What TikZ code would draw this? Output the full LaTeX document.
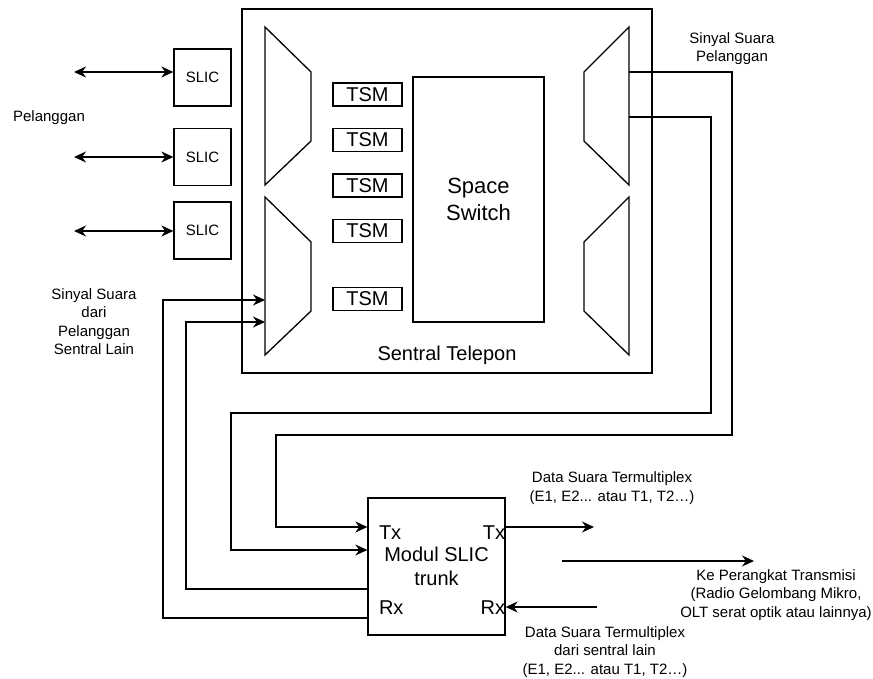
\documentclass[tikz,border=0pt]{standalone}
\usepackage{fontspec}
\setmainfont{Liberation Sans}
\usetikzlibrary{arrows.meta,positioning}

\begin{document}
\begin{tikzpicture}[
  x=1pt, y=-1pt,
  line width=1.3pt,
  txt/.style={font=\fontsize{15}{18.5}\selectfont, align=center},
  big/.style={font=\fontsize{20}{24}\selectfont, align=center},
  slic/.style={draw, minimum width=57pt, minimum height=57pt, inner sep=0pt,
               font=\fontsize{15}{18}\selectfont},
  tsm/.style={draw, minimum width=69pt, minimum height=23pt, inner sep=0pt,
              font=\fontsize{20}{24}\selectfont},
  arr/.style={-{Stealth[length=12pt,width=11pt]}},
  arrs/.style={{Stealth[length=12pt,width=11pt]}-{Stealth[length=12pt,width=11pt]}}
]
\useasboundingbox (0,0) rectangle (873,679);

% sentral telepon
\node[draw, minimum width=410pt, minimum height=364pt] (st) at (447,191) {};
\node[big] (stl) at (447,355) {Sentral Telepon};

\foreach \i/\y in {1/94.5,2/140,3/185.5,4/231,5/299}
  \node[tsm] (tsm\i) at (367.5,\y) {TSM};

\node[draw, minimum width=131pt, minimum height=245pt, align=center,
      font=\fontsize{22}{27}\selectfont] (ss) at (478.5,199.5) {Space\\Switch};

% mux / demux
\foreach \dy in {0,170} {
  \draw (265,27+\dy) -- (311,72+\dy) -- (311,141+\dy) -- (265,185+\dy) -- cycle;
  \draw (629,27+\dy) -- (584,72+\dy) -- (584,141+\dy) -- (629,185+\dy) -- cycle;
}
\coordinate (mxl1) at (265,300);
\coordinate (mxl2) at (265,322);
\coordinate (mxr1) at (629,72);
\coordinate (mxr2) at (629,117);

% pelanggan
\node[slic] (s1) at (202.5,77.5) {SLIC};
\node[slic] (s2) at (202.5,157) {SLIC};
\node[slic] (s3) at (202.5,230.5) {SLIC};
\coordinate (p1) at (74,72);
\coordinate (p2) at (74,157);
\coordinate (p3) at (74,231);
\draw[arrs] (p1) -- (p1 -| s1.west);
\draw[arrs] (p2) -- (p2 -| s2.west);
\draw[arrs] (p3) -- (p3 -| s3.west);

\node[txt] (pel) at (49,118) {Pelanggan};
\node[txt] (ssl) at (94,321.5) {Sinyal Suara\\dari\\Pelanggan\\Sentral Lain};
\node[txt] (ssp) at (732,48.5) {Sinyal Suara\\Pelanggan};

% modul slic trunk
\node[draw, minimum width=137pt, minimum height=137pt, inner sep=0pt,
      big] (modul) at (436.5,566.5) {Modul SLIC\\trunk};
\node[big, anchor=west, inner sep=0pt, xshift=11pt] (txl) at (modul.west |- 0,533) {Tx};
\node[big, anchor=east, inner sep=0pt] (txr) at (modul.east |- 0,533) {Tx};
\node[big, anchor=west, inner sep=0pt, xshift=11pt] (rxl) at (modul.west |- 0,608) {Rx};
\node[big, anchor=east, inner sep=0pt] (rxr) at (modul.east |- 0,608) {Rx};

\draw[arr] (mxr1) -| (732,435) -| (276,527) -- (modul.west |- 0,527);
\draw[arr] (mxr2) -| (711,413) -| (231,550) -- (modul.west |- 0,550);
\draw[arr] (modul.west |- 0,589) -| (186,322) -- (mxl2);
\draw[arr] (modul.west |- 0,618) -| (163,300) -- (mxl1);

\coordinate (txout) at (594,527);
\coordinate (tr1) at (562,561);
\coordinate (tr2) at (754,561);
\coordinate (rxin) at (597,607);
\draw[arr] (modul.east |- txout) -- (txout);
\draw[arr] (tr1) -- (tr2);
\draw[arr] (rxin) -- (modul.east |- rxin);

\node[txt] (dst) at (612,488) {Data Suara Termultiplex\\(E1, E2... atau T1, T2…)};
\node[txt] (kpt) at (776,595) {Ke Perangkat Transmisi\\(Radio Gelombang Mikro,\\OLT serat optik atau lainnya)};
\node[txt] (dsr) at (605,652) {Data Suara Termultiplex\\dari sentral lain\\(E1, E2... atau T1, T2…)};

\end{tikzpicture}
\end{document}
